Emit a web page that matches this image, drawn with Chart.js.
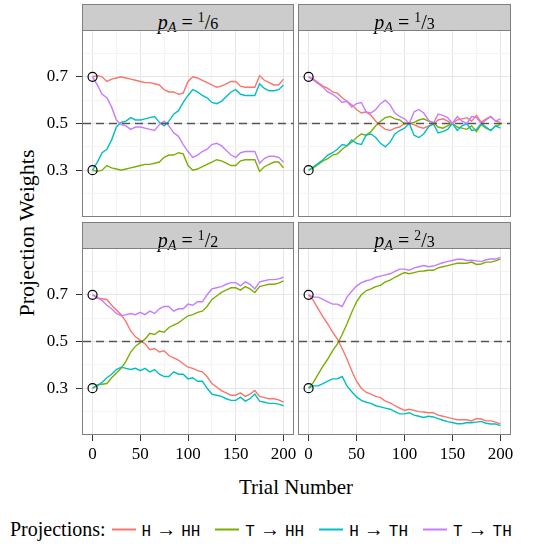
<!DOCTYPE html>
<html>
<head>
<meta charset="utf-8">
<script src="https://cdn.jsdelivr.net/npm/chart.js@4.4.1/dist/chart.umd.min.js"></script>
<style>
  body { margin: 0; background: #fff; width: 540px; height: 544px; overflow: hidden; position: relative;
         font-family: 'Liberation Serif', serif; color: #000; }
  canvas { position: absolute; }
  .strip { position: absolute; background: #cccccc; border: 1px solid #7f7f7f; box-sizing: border-box;
           text-align: center; font-size: 20px; line-height: 25px; }
  .strip sup { font-size: 68%; vertical-align: 0.5em; font-style: normal; }
  .strip .den { font-size: 80%; }
  .strip sub { font-size: 72%; vertical-align: -0.25em; }
  .title { position: absolute; font-size: 21px; white-space: nowrap; transform: translate(-50%, -50%); }
  #ytitle { font-size: 22px; transform: translate(-50%, -50%) rotate(-90deg); }
  #legend { position: absolute; left: 10px; top: 529px; transform: translateY(-50%); display: flex;
            align-items: center; font-size: 20px; white-space: nowrap; }
  #legend .key { display: inline-block; width: 24px; height: 2px; margin: 0 6px 0 15px; }
  #legend .key.first { margin-left: 6px; }
  #legend .tt { font-family: 'Liberation Mono', monospace; font-size: 16px; }
</style>
</head>
<body>
<div id="ytitle" class="title" style="left:27px;top:233px;">Projection Weights</div>
<div class="title" style="left:296px;top:487px;">Trial Number</div>
<div id="legend"></div>
<script>
// trial numbers sampled every 5 trials
const trials = [0,5,10,15,20,25,30,35,40,45,50,55,60,65,70,75,80,85,90,95,100,
                105,110,115,120,125,130,135,140,145,150,155,160,165,170,175,180,185,190,195,200];

// p_A = 1/6
const p16_HtoHH = [0.70,0.705,0.70,0.68,0.69,0.695,0.70,0.695,0.69,0.685,0.68,0.675,0.675,0.67,0.665,0.645,0.635,0.635,0.625,0.63,0.68,
                   0.70,0.695,0.685,0.675,0.665,0.655,0.66,0.67,0.68,0.68,0.66,0.655,0.655,0.655,0.705,0.685,0.675,0.665,0.665,0.69];
const p16_TtoHH = [0.30,0.295,0.30,0.32,0.31,0.305,0.30,0.305,0.31,0.315,0.32,0.325,0.325,0.33,0.335,0.355,0.365,0.365,0.375,0.37,0.32,
                   0.30,0.305,0.315,0.325,0.335,0.345,0.34,0.33,0.32,0.32,0.34,0.345,0.345,0.345,0.295,0.315,0.325,0.335,0.335,0.31];
const p16_HtoTH = [0.30,0.335,0.375,0.39,0.43,0.485,0.505,0.51,0.525,0.515,0.515,0.52,0.525,0.53,0.505,0.49,0.51,0.54,0.555,0.59,0.62,
                   0.645,0.635,0.62,0.61,0.59,0.585,0.595,0.615,0.635,0.645,0.625,0.62,0.62,0.62,0.67,0.65,0.64,0.64,0.645,0.665];
const p16_TtoTH = [0.70,0.665,0.625,0.61,0.57,0.515,0.495,0.49,0.475,0.485,0.485,0.48,0.475,0.47,0.495,0.51,0.49,0.46,0.445,0.41,0.38,
                   0.355,0.365,0.38,0.39,0.41,0.415,0.405,0.385,0.365,0.355,0.375,0.38,0.38,0.38,0.33,0.35,0.36,0.36,0.355,0.335];

// p_A = 1/3
const p13_HtoHH = [0.70,0.69,0.675,0.66,0.65,0.635,0.63,0.61,0.595,0.58,0.56,0.545,0.55,0.535,0.51,0.49,0.475,0.47,0.48,0.485,0.50,
                   0.50,0.495,0.485,0.48,0.49,0.495,0.515,0.52,0.51,0.50,0.515,0.52,0.525,0.51,0.535,0.505,0.52,0.53,0.51,0.505];
const p13_TtoHH = [0.30,0.31,0.325,0.34,0.35,0.365,0.37,0.39,0.405,0.42,0.44,0.455,0.45,0.465,0.49,0.51,0.525,0.53,0.52,0.515,0.50,
                   0.50,0.505,0.515,0.52,0.51,0.505,0.485,0.48,0.49,0.50,0.485,0.48,0.475,0.49,0.465,0.495,0.48,0.47,0.49,0.495];
const p13_HtoTH = [0.30,0.315,0.33,0.345,0.365,0.375,0.39,0.41,0.405,0.43,0.415,0.41,0.45,0.455,0.44,0.415,0.40,0.42,0.455,0.47,0.48,
                   0.50,0.45,0.44,0.455,0.485,0.50,0.46,0.465,0.475,0.50,0.47,0.49,0.50,0.47,0.475,0.50,0.485,0.47,0.49,0.48];
const p13_TtoTH = [0.70,0.685,0.67,0.655,0.635,0.625,0.61,0.59,0.595,0.57,0.585,0.59,0.55,0.545,0.56,0.585,0.60,0.58,0.545,0.53,0.52,
                   0.50,0.55,0.56,0.545,0.515,0.50,0.54,0.535,0.525,0.50,0.53,0.51,0.50,0.53,0.525,0.50,0.515,0.53,0.51,0.52];

// p_A = 1/2
const p12_HtoHH = [0.70,0.685,0.683,0.68,0.655,0.635,0.615,0.585,0.545,0.52,0.505,0.49,0.465,0.47,0.455,0.46,0.44,0.43,0.42,0.405,0.39,
                   0.385,0.375,0.37,0.35,0.32,0.305,0.29,0.28,0.27,0.27,0.28,0.265,0.275,0.29,0.265,0.26,0.255,0.255,0.25,0.24];
const p12_TtoHH = [0.30,0.315,0.317,0.32,0.345,0.365,0.385,0.415,0.455,0.48,0.495,0.51,0.535,0.53,0.545,0.54,0.56,0.57,0.58,0.595,0.61,
                   0.615,0.625,0.63,0.65,0.68,0.695,0.71,0.72,0.73,0.73,0.72,0.735,0.725,0.71,0.735,0.74,0.745,0.745,0.75,0.76];
const p12_HtoTH = [0.30,0.31,0.325,0.345,0.36,0.38,0.39,0.385,0.38,0.385,0.375,0.385,0.37,0.38,0.36,0.35,0.35,0.37,0.36,0.36,0.34,
                   0.345,0.33,0.33,0.30,0.275,0.27,0.265,0.255,0.248,0.248,0.262,0.245,0.255,0.275,0.245,0.24,0.235,0.235,0.232,0.225];
const p12_TtoTH = [0.70,0.69,0.675,0.655,0.64,0.62,0.61,0.615,0.62,0.615,0.625,0.615,0.63,0.62,0.64,0.65,0.65,0.63,0.64,0.64,0.66,
                   0.655,0.67,0.67,0.70,0.725,0.73,0.735,0.745,0.752,0.752,0.738,0.755,0.745,0.725,0.755,0.76,0.765,0.765,0.768,0.775];

// p_A = 2/3
const p23_HtoHH = [0.70,0.675,0.64,0.605,0.575,0.54,0.51,0.47,0.425,0.375,0.33,0.30,0.283,0.275,0.265,0.26,0.245,0.237,0.225,0.215,0.205,
                   0.21,0.205,0.20,0.198,0.195,0.195,0.185,0.18,0.175,0.17,0.165,0.165,0.165,0.16,0.17,0.168,0.16,0.16,0.155,0.147];
const p23_TtoHH = [0.30,0.325,0.36,0.395,0.425,0.46,0.49,0.53,0.575,0.625,0.67,0.70,0.717,0.725,0.735,0.74,0.755,0.763,0.775,0.785,0.795,
                   0.79,0.795,0.80,0.802,0.805,0.805,0.815,0.82,0.825,0.83,0.835,0.835,0.835,0.84,0.83,0.832,0.84,0.84,0.845,0.853];
const p23_HtoTH = [0.30,0.31,0.31,0.32,0.33,0.34,0.34,0.35,0.31,0.285,0.263,0.248,0.24,0.235,0.225,0.22,0.215,0.21,0.20,0.19,0.19,
                   0.195,0.185,0.18,0.175,0.18,0.177,0.17,0.163,0.157,0.153,0.148,0.148,0.153,0.152,0.155,0.158,0.15,0.147,0.147,0.14];
const p23_TtoTH = [0.70,0.69,0.69,0.68,0.67,0.66,0.66,0.65,0.69,0.715,0.737,0.752,0.76,0.765,0.775,0.78,0.785,0.79,0.80,0.81,0.81,
                   0.805,0.815,0.82,0.825,0.82,0.823,0.83,0.837,0.843,0.847,0.852,0.852,0.847,0.848,0.845,0.842,0.85,0.853,0.853,0.86];

const panelNum = [1, 1, 1, 2];
const panelDen = [6, 3, 2, 3];
const seriesFrom = ['H', 'T', 'H', 'T'];
const seriesTo = ['HH', 'HH', 'TH', 'TH'];
const seriesColors = ['#F8766D', '#7CAE00', '#00BFC4', '#C77CFF'];
const xTicks = [0, 50, 100, 150, 200];
const xMinor = [25, 75, 125, 175];
const yTicks = [0.3, 0.5, 0.7];
const yMinor = [0.2, 0.4, 0.6, 0.8];
const refLevel = 0.5;

const panelSeries = [
  [p16_HtoHH, p16_TtoHH, p16_HtoTH, p16_TtoTH],
  [p13_HtoHH, p13_TtoHH, p13_HtoTH, p13_TtoTH],
  [p12_HtoHH, p12_TtoHH, p12_HtoTH, p12_TtoTH],
  [p23_HtoHH, p23_TtoHH, p23_HtoTH, p23_TtoTH]
];

// panel geometry (page pixels)
const colLeft = [83, 299], colRight = [293, 510];
const rowTop = [31, 249], rowBottom = [216, 434];
const stripTop = [4, 222];

const near = (arr, v) => arr.some(a => Math.abs(a - v) < 1e-6);

const panelDeco = {
  id: 'panelDeco',
  afterDatasetsDraw(chart) {
    const a = chart.chartArea, ctx = chart.ctx;
    const py = chart.scales.y.getPixelForValue(refLevel);
    ctx.save();
    ctx.strokeStyle = '#555';
    ctx.lineWidth = 1.4;
    ctx.setLineDash([8, 5]);
    ctx.beginPath();
    ctx.moveTo(a.left, py);
    ctx.lineTo(a.right, py);
    ctx.stroke();
    ctx.restore();
  },
  afterDraw(chart) {
    const a = chart.chartArea, ctx = chart.ctx;
    ctx.save();
    ctx.strokeStyle = '#7f7f7f';
    ctx.lineWidth = 1;
    ctx.strokeRect(a.left - 0.5, a.top - 0.5, a.right - a.left + 1, a.bottom - a.top + 1);
    ctx.restore();
  }
};

Chart.defaults.font.family = "'Liberation Serif', serif";
Chart.defaults.color = '#000';

panelSeries.forEach(function(series, idx) {
  const col = idx % 2, row = Math.floor(idx / 2);

  const strip = document.createElement('div');
  strip.className = 'strip';
  strip.style.left = (colLeft[col] - 1) + 'px';
  strip.style.top = stripTop[row] + 'px';
  strip.style.width = (colRight[col] - colLeft[col] + 2) + 'px';
  strip.style.height = (rowTop[row] - stripTop[row]) + 'px';
  strip.innerHTML = '<i>p</i><sub><i>A</i></sub> = <sup>' + panelNum[idx] + '</sup>/<span class="den">' + panelDen[idx] + '</span>';
  document.body.appendChild(strip);

  const padL = col === 0 ? 0 : 10;
  const yAxisW = col === 0 ? colLeft[0] : 0;
  const xAxisH = row === 1 ? 30 : 0;
  const cLeft = col === 0 ? 0 : colLeft[col] - padL;
  const cTop = rowTop[row] - 10;
  const canvas = document.createElement('canvas');
  canvas.width = colRight[col] - cLeft + 30;
  canvas.height = rowBottom[row] - cTop + xAxisH + 10;
  canvas.style.left = cLeft + 'px';
  canvas.style.top = cTop + 'px';
  document.body.appendChild(canvas);

  const datasets = series.map((vals, s) => ({
    type: 'line',
    data: trials.map((t, i) => ({ x: t, y: vals[i] })),
    borderColor: seriesColors[s],
    borderWidth: 1.4,
    pointRadius: 0,
    tension: 0,
    fill: false,
    order: 4 - s
  }));
  datasets.push({
    type: 'scatter',
    data: [{ x: trials[0], y: series[0][0] }, { x: trials[0], y: series[2][0] }],
    pointRadius: 4.5,
    pointBorderColor: '#000',
    pointBorderWidth: 1.2,
    pointBackgroundColor: 'rgba(0,0,0,0)',
    order: 0
  });

  new Chart(canvas, {
    data: { datasets: datasets },
    plugins: [panelDeco],
    options: {
      responsive: false,
      animation: false,
      devicePixelRatio: 1,
      layout: { padding: { left: padL, right: 30, top: 10, bottom: 10 } },
      plugins: { legend: { display: false }, tooltip: { enabled: false } },
      scales: {
        x: {
          type: 'linear', min: -10, max: 210,
          border: { display: false },
          afterBuildTicks: s => { s.ticks = xTicks.concat(xMinor).sort((a, b) => a - b).map(v => ({ value: v })); },
          afterFit: s => { s.height = xAxisH; s.paddingLeft = 0; s.paddingRight = 0; },
          grid: {
            color: c => (c.tick && near(xTicks, c.tick.value)) ? '#e6e6e6' : '#f4f4f4',
            drawTicks: row === 1,
            tickLength: 7,
            tickColor: c => (c.tick && near(xTicks, c.tick.value)) ? '#333' : 'rgba(0,0,0,0)'
          },
          ticks: {
            display: row === 1, autoSkip: false, maxRotation: 0, padding: 3,
            font: { size: 17 },
            callback: v => near(xTicks, v) ? String(v) : ''
          }
        },
        y: {
          type: 'linear', min: 0.104, max: 0.896,
          border: { display: false },
          afterBuildTicks: s => { s.ticks = yTicks.concat(yMinor).sort((a, b) => a - b).map(v => ({ value: v })); },
          afterFit: s => { s.width = yAxisW; s.paddingTop = 0; s.paddingBottom = 0; },
          grid: {
            color: c => (c.tick && near(yTicks, c.tick.value)) ? '#e6e6e6' : '#f4f4f4',
            drawTicks: col === 0,
            tickLength: 7,
            tickColor: c => (c.tick && near(yTicks, c.tick.value)) ? '#333' : 'rgba(0,0,0,0)'
          },
          ticks: {
            display: col === 0, autoSkip: false, padding: 8,
            font: { size: 17 },
            callback: v => near(yTicks, v) ? v.toFixed(1) : ''
          }
        }
      }
    }
  });
});

document.getElementById('legend').innerHTML = '<span>Projections:</span>' + seriesColors.map((c, i) =>
  '<span class="key' + (i === 0 ? ' first' : '') + '" style="background:' + c + '"></span><span><span class="tt">' + seriesFrom[i] +
  '</span> → <span class="tt">' + seriesTo[i] + '</span></span>').join('');
</script>
</body>
</html>
